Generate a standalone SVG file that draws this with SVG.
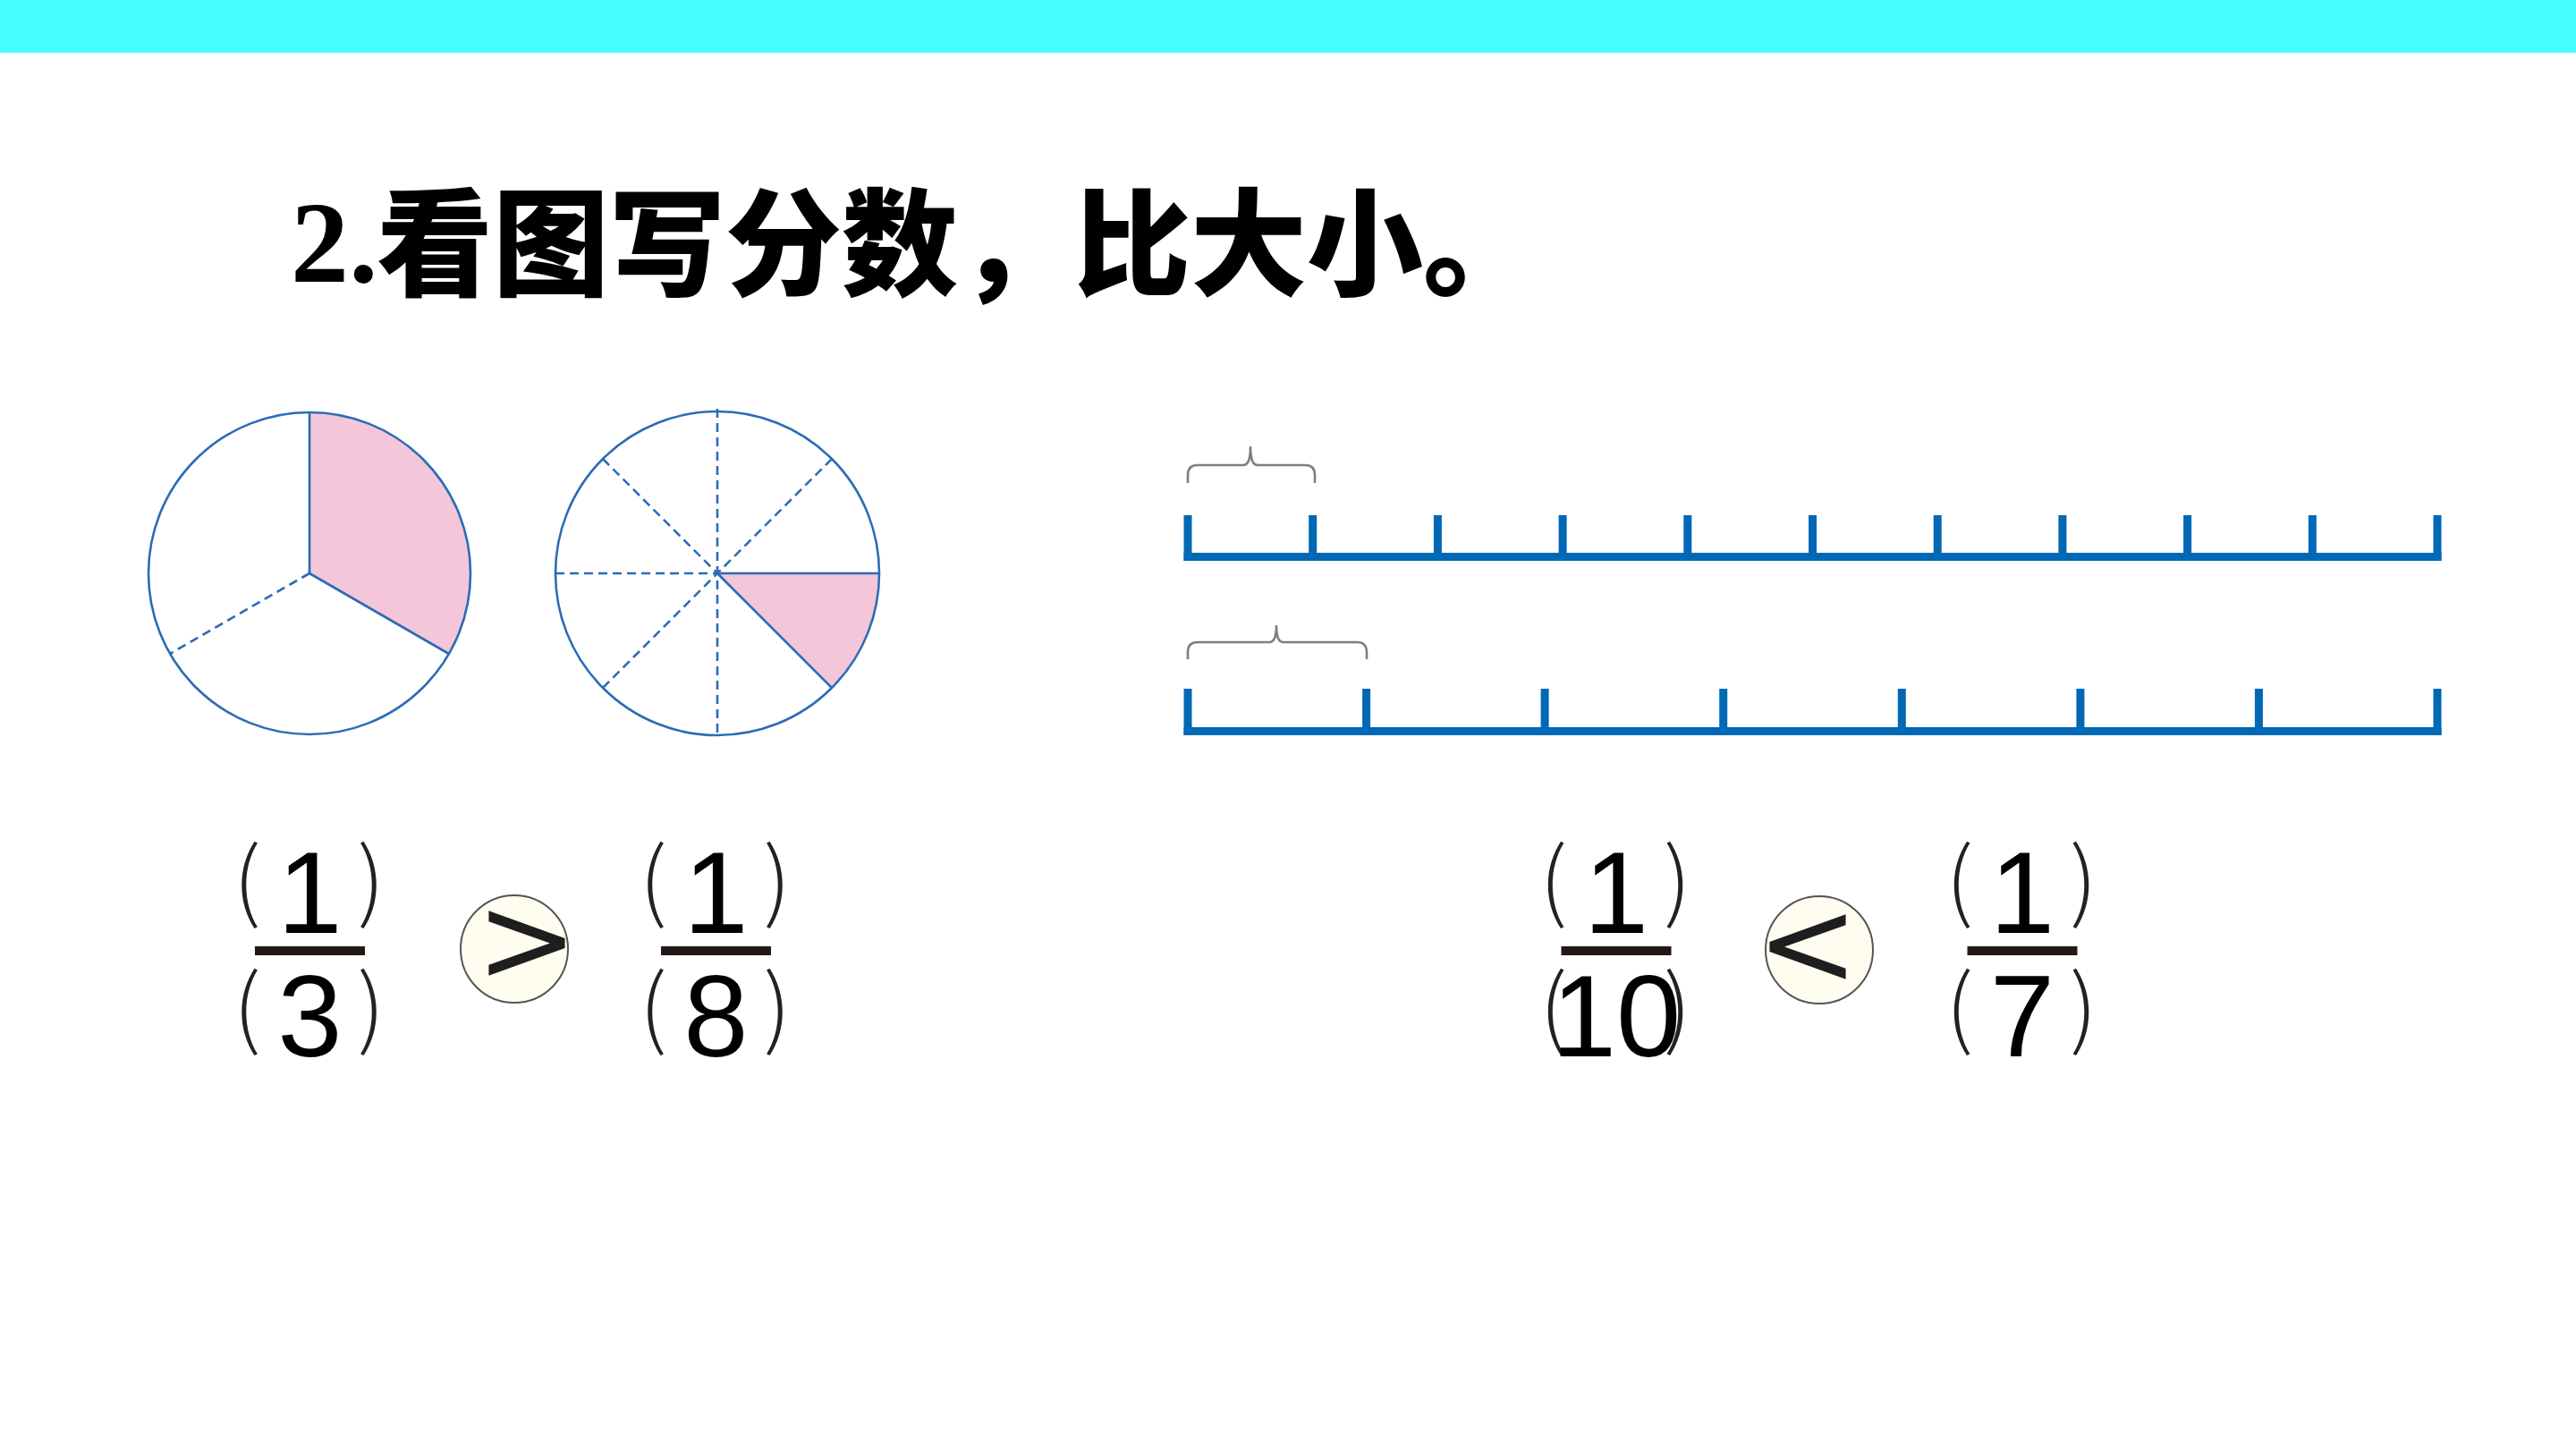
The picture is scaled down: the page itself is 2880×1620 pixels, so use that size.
<svg xmlns="http://www.w3.org/2000/svg" width="2880" height="1620" viewBox="0 0 2880 1620">
<defs>
<style>
.bg{fill:#ffffff}
.band{fill:#47FFFF}
.title-num{font-family:"Liberation Serif","Times New Roman",serif;font-weight:bold;font-size:130px;fill:#000}
.title-cjk{font-family:"Noto Sans CJK SC","Noto Sans CJK JP",sans-serif;font-weight:900;font-size:130px;fill:#000}
.pie{fill:none;stroke:#2B6CB5;stroke-width:2.6}
.pink{fill:#F4C6DA;stroke:none}
.dash{fill:none;stroke:#2B6CB5;stroke-width:2.6;stroke-dasharray:10 6}
.ruler{fill:#0068B5}
.brace{fill:none;stroke:#7E7E7E;stroke-width:2.6;stroke-linejoin:round}
.digit{font-family:"Liberation Sans",Arial,sans-serif;font-size:130px;fill:#000;text-anchor:middle}
.paren{font-family:"Noto Sans CJK SC","Noto Sans CJK JP",sans-serif;font-weight:300;font-size:97px;fill:#222}
.bar{fill:#231815}
.cmp{fill:#FFFDF0;stroke:#555;stroke-width:2}
.sign{font-family:"DejaVu Sans",sans-serif;font-size:136px;fill:#1e1e1e;text-anchor:middle}
</style>
</defs>
<rect class="bg" x="0" y="0" width="2880" height="1620"/>
<rect class="band" x="0" y="0" width="2880" height="59"/>

<g id="title">
<text class="title-num" x="325" y="315">2.</text>
<text class="title-cjk" x="421" y="320">看图写分数，比大小。</text>
</g>

<g id="circle-thirds">
<path class="pink" d="M346,641 L346,461 A180,180 0 0 1 501.9,731 Z"/>
<circle class="pie" cx="346" cy="641" r="180"/>
<line class="pie" x1="346" y1="641" x2="346" y2="461"/>
<line class="pie" x1="346" y1="641" x2="501.9" y2="731"/>
<line class="dash" x1="346" y1="641" x2="190.1" y2="731"/>
</g>

<g id="circle-eighths">
<path class="pink" d="M802,641 L983,641 A181,181 0 0 1 930,769 Z"/>
<circle class="pie" cx="802" cy="641" r="181"/>
<line class="dash" x1="802" y1="457" x2="802" y2="823"/>
<line class="dash" x1="621" y1="641" x2="802" y2="641"/>
<line class="pie" x1="802" y1="641" x2="983" y2="641"/>
<line class="dash" x1="674" y1="513" x2="802" y2="641"/>
<line class="dash" x1="930" y1="513" x2="674" y2="769"/>
<line class="pie" x1="802" y1="641" x2="930" y2="769"/>
</g>

<g id="ruler-tenths">
<path class="brace" d="M1328,540 L1328,531 Q1328,520 1339,520 L1390,520 Q1398,520 1398,500 Q1398,520 1406,520 L1459,520 Q1470,520 1470,531 L1470,540"/>
<rect class="ruler" x="1323.5" y="618" width="1406" height="9"/>
<rect class="ruler" x="1323.5" y="576" width="9" height="51"/>
<rect class="ruler" x="1463.2" y="576" width="9" height="51"/>
<rect class="ruler" x="1602.9" y="576" width="9" height="51"/>
<rect class="ruler" x="1742.6" y="576" width="9" height="51"/>
<rect class="ruler" x="1882.3" y="576" width="9" height="51"/>
<rect class="ruler" x="2022" y="576" width="9" height="51"/>
<rect class="ruler" x="2161.7" y="576" width="9" height="51"/>
<rect class="ruler" x="2301.4" y="576" width="9" height="51"/>
<rect class="ruler" x="2441.1" y="576" width="9" height="51"/>
<rect class="ruler" x="2580.8" y="576" width="9" height="51"/>
<rect class="ruler" x="2720.5" y="576" width="9" height="51"/>
</g>

<g id="ruler-sevenths">
<path class="brace" d="M1328,737 L1328,729 Q1328,718 1339,718 L1419,718 Q1427,718 1427,700 Q1427,718 1435,718 L1517,718 Q1528,718 1528,729 L1528,737"/>
<rect class="ruler" x="1323.5" y="813" width="1406" height="9"/>
<rect class="ruler" x="1323.5" y="770" width="9" height="52"/>
<rect class="ruler" x="1523.1" y="770" width="9" height="52"/>
<rect class="ruler" x="1722.6" y="770" width="9" height="52"/>
<rect class="ruler" x="1922.2" y="770" width="9" height="52"/>
<rect class="ruler" x="2121.8" y="770" width="9" height="52"/>
<rect class="ruler" x="2321.4" y="770" width="9" height="52"/>
<rect class="ruler" x="2520.9" y="770" width="9" height="52"/>
<rect class="ruler" x="2720.5" y="770" width="9" height="52"/>
</g>

<g id="fraction-1-3">
<text class="paren" x="261" y="1019">(</text>
<text class="digit" x="346.5" y="1043">1</text>
<text class="paren" x="399.5" y="1019">)</text>
<rect class="bar" x="285" y="1058" width="123" height="10"/>
<text class="paren" x="261" y="1161">(</text>
<text class="digit" x="346.5" y="1181">3</text>
<text class="paren" x="399.5" y="1161">)</text>
</g>

<g id="compare-gt">
<circle class="cmp" cx="575" cy="1061" r="60"/>
<text class="sign" x="589" y="1097">&gt;</text>
</g>

<g id="fraction-1-8">
<text class="paren" x="715" y="1019">(</text>
<text class="digit" x="800.5" y="1043">1</text>
<text class="paren" x="853.5" y="1019">)</text>
<rect class="bar" x="739" y="1058" width="123" height="10"/>
<text class="paren" x="715" y="1161">(</text>
<text class="digit" x="800.5" y="1181">8</text>
<text class="paren" x="853.5" y="1161">)</text>
</g>

<g id="fraction-1-10">
<text class="paren" x="1721.5" y="1019">(</text>
<text class="digit" x="1807" y="1043">1</text>
<text class="paren" x="1860" y="1019">)</text>
<rect class="bar" x="1745.5" y="1058" width="123" height="10"/>
<text class="paren" x="1721.5" y="1161">(</text>
<text class="digit" x="1807" y="1181">10</text>
<text class="paren" x="1860" y="1161">)</text>
</g>

<g id="compare-lt">
<circle class="cmp" cx="2034" cy="1062" r="60"/>
<text class="sign" x="2021" y="1101">&lt;</text>
</g>

<g id="fraction-1-7">
<text class="paren" x="2175.5" y="1019">(</text>
<text class="digit" x="2261" y="1043">1</text>
<text class="paren" x="2314" y="1019">)</text>
<rect class="bar" x="2199.5" y="1058" width="123" height="10"/>
<text class="paren" x="2175.5" y="1161">(</text>
<text class="digit" x="2261" y="1181">7</text>
<text class="paren" x="2314" y="1161">)</text>
</g>
</svg>
